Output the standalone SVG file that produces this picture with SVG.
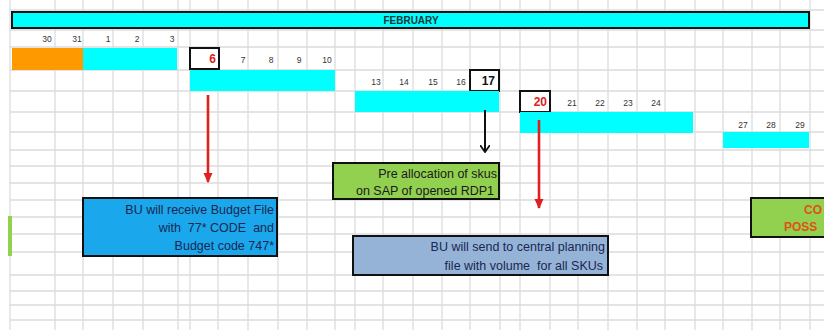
<svg xmlns="http://www.w3.org/2000/svg" width="824" height="330" viewBox="0 0 824 330">
<defs>
<style>
.grid{stroke:#dcdcdc;stroke-width:1.3;fill:none}
.bar{fill:#00ffff}
.day{font-family:"Liberation Sans",Arial,sans-serif;font-size:8.5px;fill:#333;text-anchor:middle}
.box{stroke:#111;stroke-width:2}
.big{font-family:"Liberation Sans",Arial,sans-serif;font-size:12px;font-weight:bold;text-anchor:end}
.note{font-family:"Liberation Sans",Arial,sans-serif;font-size:12.5px;text-anchor:end;white-space:pre}
.conn{stroke-width:2.6;fill:none}
</style>
<marker id="ahRed" markerWidth="10" markerHeight="10" refX="9" refY="5" orient="auto" markerUnits="userSpaceOnUse" viewBox="0 0 10 10">
<path d="M0,0.5 L10,5 L0,9.5 Z" fill="#e02020"/>
</marker>
<marker id="ahBlack" markerWidth="8" markerHeight="10" refX="7" refY="5" orient="auto" markerUnits="userSpaceOnUse" viewBox="0 0 8 10">
<path d="M0,0 L7,5 L0,10" fill="none" stroke="#111" stroke-width="1.8"/>
</marker>
</defs>
<rect width="824" height="330" fill="#ffffff"/>
<g id="grid">
<path class="grid" d="M10,0V330 M55,0V330 M83,0V330 M113,0V330 M143,0V330 M178,0V330 M190,0V330 M218,0V330 M248,0V330 M278,0V330 M307,0V330 M335,0V330 M355,0V330 M383,0V330 M413,0V330 M442,0V330 M470,0V330 M500,0V330 M520,0V330 M550,0V330 M578,0V330 M608,0V330 M637,0V330 M665,0V330 M695,0V330 M723,0V330 M752,0V330 M780,0V330 M810,0V330"/>
<path class="grid" d="M10,10H824 M10,30H824 M10,47H824 M10,70H824 M10,91H824 M10,112H824 M10,132H824 M10,150H824 M10,166H824 M10,183H824 M10,200H824 M10,217H824 M10,234H824 M10,252H824 M10,275H824 M10,291H824 M10,305H824 M10,320H824"/>
</g>
<g id="header">
<rect x="12" y="12" width="797" height="16" class="bar" stroke="#111" stroke-width="2"/>
<text x="411" y="24" font-family="'Liberation Sans',Arial,sans-serif" font-size="10" font-weight="bold" fill="#1b3438" text-anchor="middle">FEBRUARY</text>
</g>
<g id="week1">
<text class="day" x="47" y="42">30</text>
<text class="day" x="77" y="42">31</text>
<text class="day" x="108" y="42">1</text>
<text class="day" x="137" y="42">2</text>
<text class="day" x="172" y="42">3</text>
<rect x="12" y="48" width="71" height="22" fill="#ff9900"/>
<rect x="83" y="48" width="94" height="22" class="bar"/>
</g>
<g id="week2">
<rect x="190" y="48" width="29" height="21" fill="#fff" class="box"/>
<text class="big" x="216" y="63" fill="#e02020">6</text>
<text class="day" x="243" y="63">7</text>
<text class="day" x="271" y="63">8</text>
<text class="day" x="299" y="63">9</text>
<text class="day" x="327" y="63">10</text>
<rect x="190" y="70" width="145" height="21" class="bar"/>
</g>
<g id="week3">
<text class="day" x="376" y="85">13</text>
<text class="day" x="404" y="85">14</text>
<text class="day" x="433" y="85">15</text>
<text class="day" x="461" y="85">16</text>
<rect x="470" y="70" width="29" height="21" fill="#fff" class="box"/>
<text class="big" x="495" y="85" fill="#111">17</text>
<rect x="355" y="91" width="144" height="21" class="bar"/>
</g>
<g id="week4">
<rect x="520" y="91" width="30" height="21" fill="#fff" class="box"/>
<text class="big" x="547" y="106" fill="#e02020">20</text>
<text class="day" x="572" y="106">21</text>
<text class="day" x="600" y="106">22</text>
<text class="day" x="628" y="106">23</text>
<text class="day" x="656" y="106">24</text>
<rect x="520" y="112" width="173" height="21" class="bar"/>
</g>
<g id="week5">
<text class="day" x="743" y="128">27</text>
<text class="day" x="771" y="128">28</text>
<text class="day" x="800" y="128">29</text>
<rect x="723" y="132" width="86" height="16" class="bar"/>
</g>
<g id="connectors">
<line x1="208" y1="95" x2="208" y2="182" stroke="#e02020" class="conn" marker-end="url(#ahRed)"/>
<line x1="485" y1="110" x2="485" y2="152" stroke="#111" stroke-width="2" fill="none" marker-end="url(#ahBlack)"/>
<line x1="539" y1="120" x2="539" y2="208" stroke="#e02020" class="conn" marker-end="url(#ahRed)"/>
</g>
<g id="budget-file">
<rect x="83" y="198" width="194" height="58" fill="#1aa7ec" class="box"/>
<text class="note" fill="#1a2750" xml:space="preserve"><tspan x="274" y="214">BU will receive Budget File</tspan><tspan x="274" y="232">with  77* CODE  and</tspan><tspan x="274" y="250">Budget code 747*</tspan></text>
</g>
<g id="pre-allocation">
<rect x="333" y="163" width="166" height="36" fill="#92d050" class="box"/>
<text class="note" fill="#1a1a1a"><tspan x="497" y="178">Pre allocation of skus</tspan><tspan x="494" y="195">on SAP of opened RDP1</tspan></text>
</g>
<g id="central-planning">
<rect x="353" y="236" width="255" height="39" fill="#95b3d7" class="box"/>
<text class="note" fill="#1a2750" xml:space="preserve"><tspan x="605" y="251">BU will send to central planning</tspan><tspan x="603" y="270">file with volume  for all SKUs</tspan></text>
</g>
<g id="confirm">
<rect x="751" y="198" width="80" height="39" fill="#92d050" class="box"/>
<text font-family="'Liberation Sans',Arial,sans-serif" font-size="12" font-weight="bold" fill="#e0501a"><tspan x="804" y="214">CO</tspan><tspan x="784" y="231">POSS</tspan></text>
</g>
<g id="left-note">
<rect x="8" y="216" width="4" height="40" fill="#92d050"/>
</g>
</svg>
